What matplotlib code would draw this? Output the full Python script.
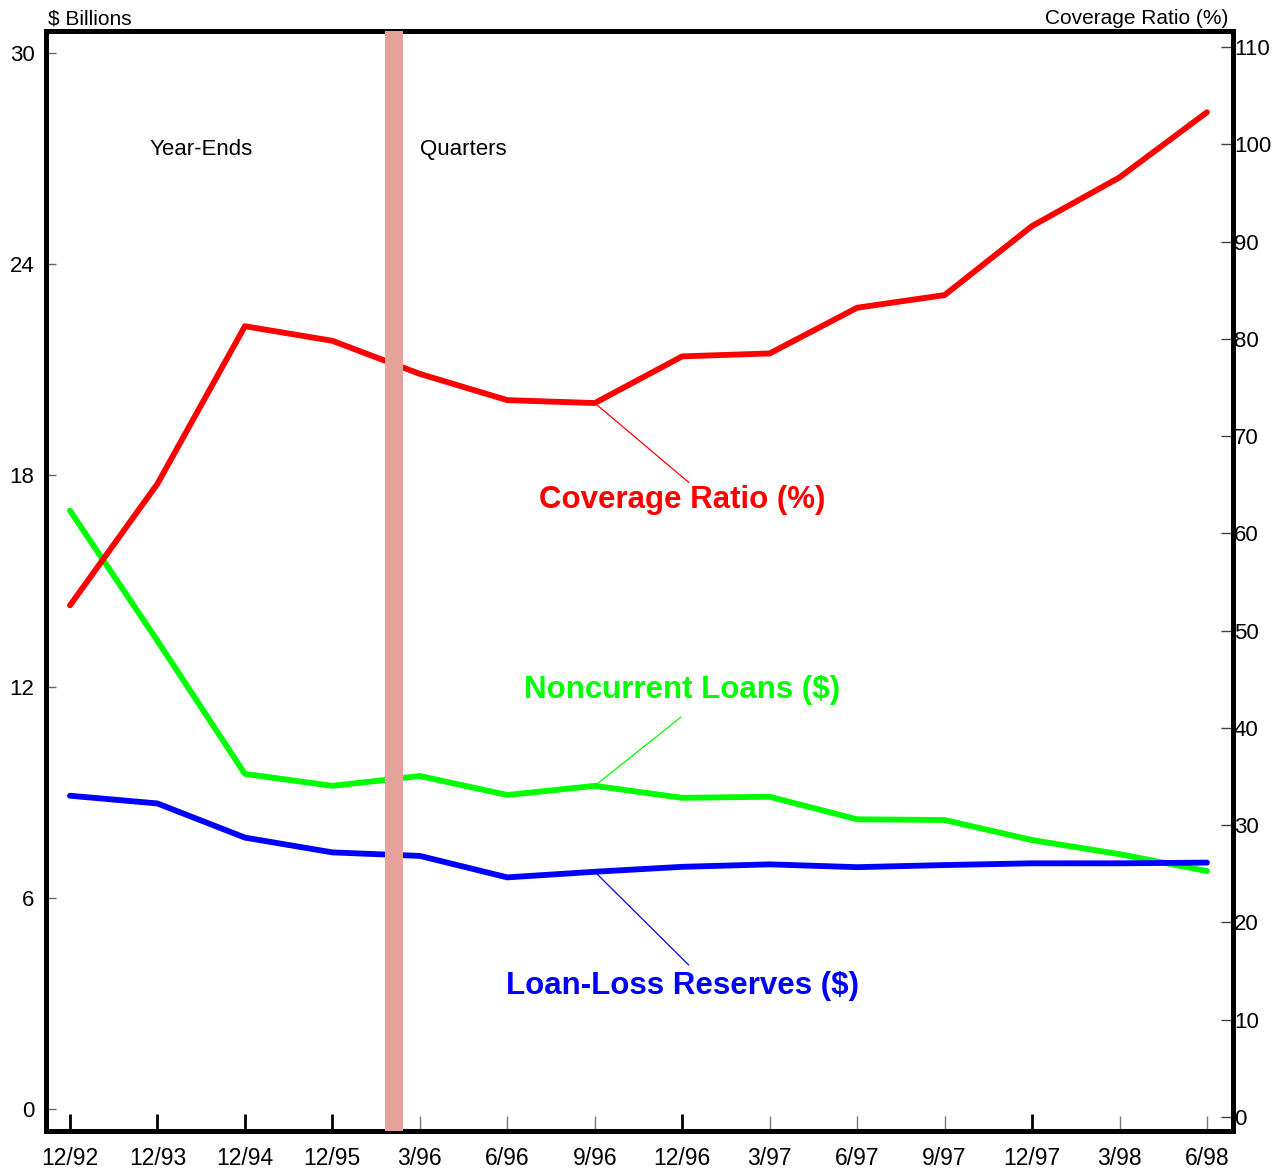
import matplotlib
matplotlib.use("Agg")
import matplotlib.pyplot as plt

plt.rcParams['font.family'] = ['Liberation Sans', 'DejaVu Sans']

# 데이터
periods = ['12/92', '12/93', '12/94', '12/95', '3/96', '6/96', '9/96',
           '12/96', '3/97', '6/97', '9/97', '12/97', '3/98', '6/98']
noncurrent = [17.0, 13.3, 9.52, 9.18, 9.46, 8.92, 9.18,
              8.84, 8.87, 8.23, 8.21, 7.64, 7.24, 6.76]
reserves = [8.90, 8.68, 7.71, 7.29, 7.19, 6.58, 6.74,
            6.88, 6.95, 6.87, 6.93, 6.98, 6.98, 7.00]
coverage = [52.6, 65.1, 81.3, 79.8, 76.4, 73.7, 73.4,
            78.2, 78.5, 83.2, 84.5, 91.6, 96.6, 103.3]
left_ticks = [0, 6, 12, 18, 24, 30]
right_ticks = [0, 10, 20, 30, 40, 50, 60, 70, 80, 90, 100, 110]

x = list(range(len(periods)))
dec_pos = [i for i, p in enumerate(periods) if p.startswith('12/')]
qtr_pos = [i for i, p in enumerate(periods) if not p.startswith('12/')]

fig = plt.figure(figsize=(12.75, 11.73), dpi=100)
ax = fig.add_axes([0.03569, 0.03623, 0.93098, 0.93734])
ax2 = ax.twinx()

# 선 그래프
ax.plot(x, noncurrent, color='#00ff00', lw=4.2, solid_capstyle='round', zorder=3)
ax.plot(x, reserves, color='#0000ff', lw=4.2, solid_capstyle='round', zorder=3)
ax2.plot(x, coverage, color='#ff0000', lw=4.2, solid_capstyle='round', zorder=3)

# 연말/분기 구분 막대
ax2.axvspan(3.60, 3.81, color='#e5a29b', lw=0, zorder=5)

ax.set_xlim(-0.28, 13.292)
ax.set_ylim(-0.611, 30.625)
ax2.set_ylim(-1.388, 111.65)

# 축 눈금
ax.set_xticks(dec_pos, [periods[i] for i in dec_pos])
ax.set_xticks(qtr_pos, [periods[i] for i in qtr_pos], minor=True)
ax.tick_params(axis='x', which='major', direction='in', length=12, width=2,
               color='black', labelsize=16.5, pad=12)
ax.tick_params(axis='x', which='minor', direction='in', length=11, width=1,
               color='#777777', labelsize=16.5, pad=12)
ax.set_yticks(left_ticks)
ax.tick_params(axis='y', direction='in', length=7, width=1, color='#666666',
               labelsize=16, pad=8)
ax2.set_yticks(right_ticks)
ax2.tick_params(axis='y', direction='in', length=9, width=1, color='#444444',
                labelsize=16, pad=1)
for lbl in ax.get_yticklabels() + ax2.get_yticklabels():
    lbl.set_va('center_baseline')

for a in (ax, ax2):
    for s in a.spines.values():
        s.set_linewidth(3.6)
        s.set_color('black')
        s.set_capstyle('projecting')

# 주석 글자
ax.text(1.5, 27.25, 'Year-Ends', ha='center', va='center', fontsize=16)
ax.text(4.5, 27.25, 'Quarters', ha='center', va='center', fontsize=16)

ax2.annotate('Coverage Ratio (%)', xy=(6, coverage[6]), xytext=(7.0, 63.4),
             ha='center', va='center', fontsize=22.5, fontweight='bold',
             color='#ff0000', zorder=6,
             arrowprops=dict(arrowstyle='-', color='#ff0000', lw=0.9,
                             relpos=(0.535, 1.0), shrinkA=0, shrinkB=0))
ax.annotate('Noncurrent Loans ($)', xy=(6, noncurrent[6]), xytext=(7.0, 11.91),
            ha='center', va='center', fontsize=22.5, fontweight='bold',
            color='#00ff00',
            arrowprops=dict(arrowstyle='-', color='#00ff00', lw=0.9,
                            relpos=(0.545, 0.0), shrinkA=11, shrinkB=0))
ax.annotate('Loan-Loss Reserves ($)', xy=(6, reserves[6]), xytext=(7.0, 3.5),
            ha='center', va='center', fontsize=22.5, fontweight='bold',
            color='#0000ff',
            arrowprops=dict(arrowstyle='-', color='#0000ff', lw=0.9,
                            relpos=(0.535, 1.0), shrinkA=3, shrinkB=0))

fig.text(48 / 1275, 1 - 19 / 1173, '$ Billions', ha='left', va='center', fontsize=15)
fig.text(1228 / 1275, 1 - 19 / 1173, 'Coverage Ratio (%)', ha='right', va='center',
         fontsize=15)

fig.savefig('out.png', dpi=100)
